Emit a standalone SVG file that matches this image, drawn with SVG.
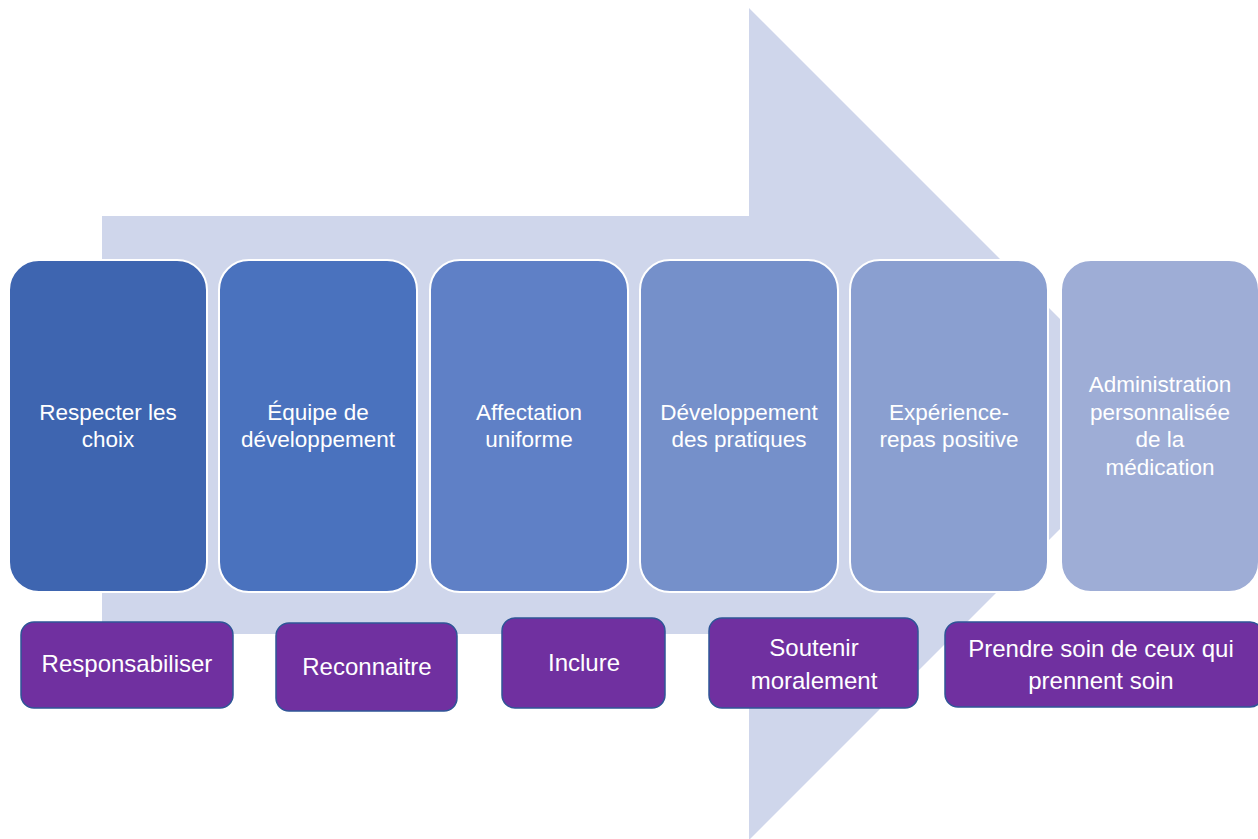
<svg xmlns="http://www.w3.org/2000/svg" width="1258" height="839" viewBox="0 0 1258 839">
<style>
.step{stroke:#ffffff;stroke-width:2}
.st{fill:#ffffff;font-family:"Liberation Sans",Arial,sans-serif;font-size:22.5px;text-anchor:middle}
.act{fill:#7030A0;stroke:#2F5597;stroke-width:1.5}
.at{fill:#ffffff;font-family:"Liberation Sans",Arial,sans-serif;font-size:24px;text-anchor:middle}
</style>
<rect width="1258" height="839" fill="#ffffff"/>
<g id="arrow">
<polygon points="102,216 749,216 749,8 1165,424 749,840 749,634 102,634" fill="#CFD6EB"/>
</g>
<g id="connectors"></g>
<g id="step1"><rect class="step" x="9" y="260" width="198" height="332" rx="30" fill="#3E65B0"/><text class="st" x="108" y="420">Respecter les</text><text class="st" x="108" y="447">choix</text></g>
<g id="step2"><rect class="step" x="219" y="260" width="198" height="332" rx="30" fill="#4A72BE"/><text class="st" x="318" y="420">Équipe de</text><text class="st" x="318" y="447">développement</text></g>
<g id="step3"><rect class="step" x="430" y="260" width="198" height="332" rx="30" fill="#5F80C6"/><text class="st" x="529" y="420">Affectation</text><text class="st" x="529" y="447">uniforme</text></g>
<g id="step4"><rect class="step" x="640" y="260" width="198" height="332" rx="30" fill="#7590CA"/><text class="st" x="739" y="420">Développement</text><text class="st" x="739" y="447">des pratiques</text></g>
<g id="step5"><rect class="step" x="850" y="260" width="198" height="332" rx="30" fill="#8A9FD0"/><text class="st" x="949" y="420">Expérience-</text><text class="st" x="949" y="447">repas positive</text></g>
<g id="step6"><rect class="step" x="1061" y="260" width="198" height="332" rx="30" fill="#9EADD6"/><text class="st" x="1160" y="392">Administration</text><text class="st" x="1160" y="420">personnalisée</text><text class="st" x="1160" y="447">de la</text><text class="st" x="1160" y="475">médication</text></g>
<g id="act1"><rect class="act" x="21" y="622" width="212" height="86" rx="13"/><text class="at" x="127" y="672">Responsabiliser</text></g>
<g id="act2"><rect class="act" x="276" y="623" width="181" height="88" rx="13"/><text class="at" x="367" y="675">Reconnaitre</text></g>
<g id="act3"><rect class="act" x="502" y="618" width="163" height="90" rx="13"/><text class="at" x="584" y="671">Inclure</text></g>
<g id="act4"><rect class="act" x="709" y="618" width="209" height="90" rx="13"/><text class="at" x="814" y="656">Soutenir</text><text class="at" x="814" y="689">moralement</text></g>
<g id="act5"><rect class="act" x="945" y="622" width="318" height="85" rx="13"/><text class="at" x="1101" y="657">Prendre soin de ceux qui</text><text class="at" x="1101" y="689">prennent soin</text></g>
</svg>
